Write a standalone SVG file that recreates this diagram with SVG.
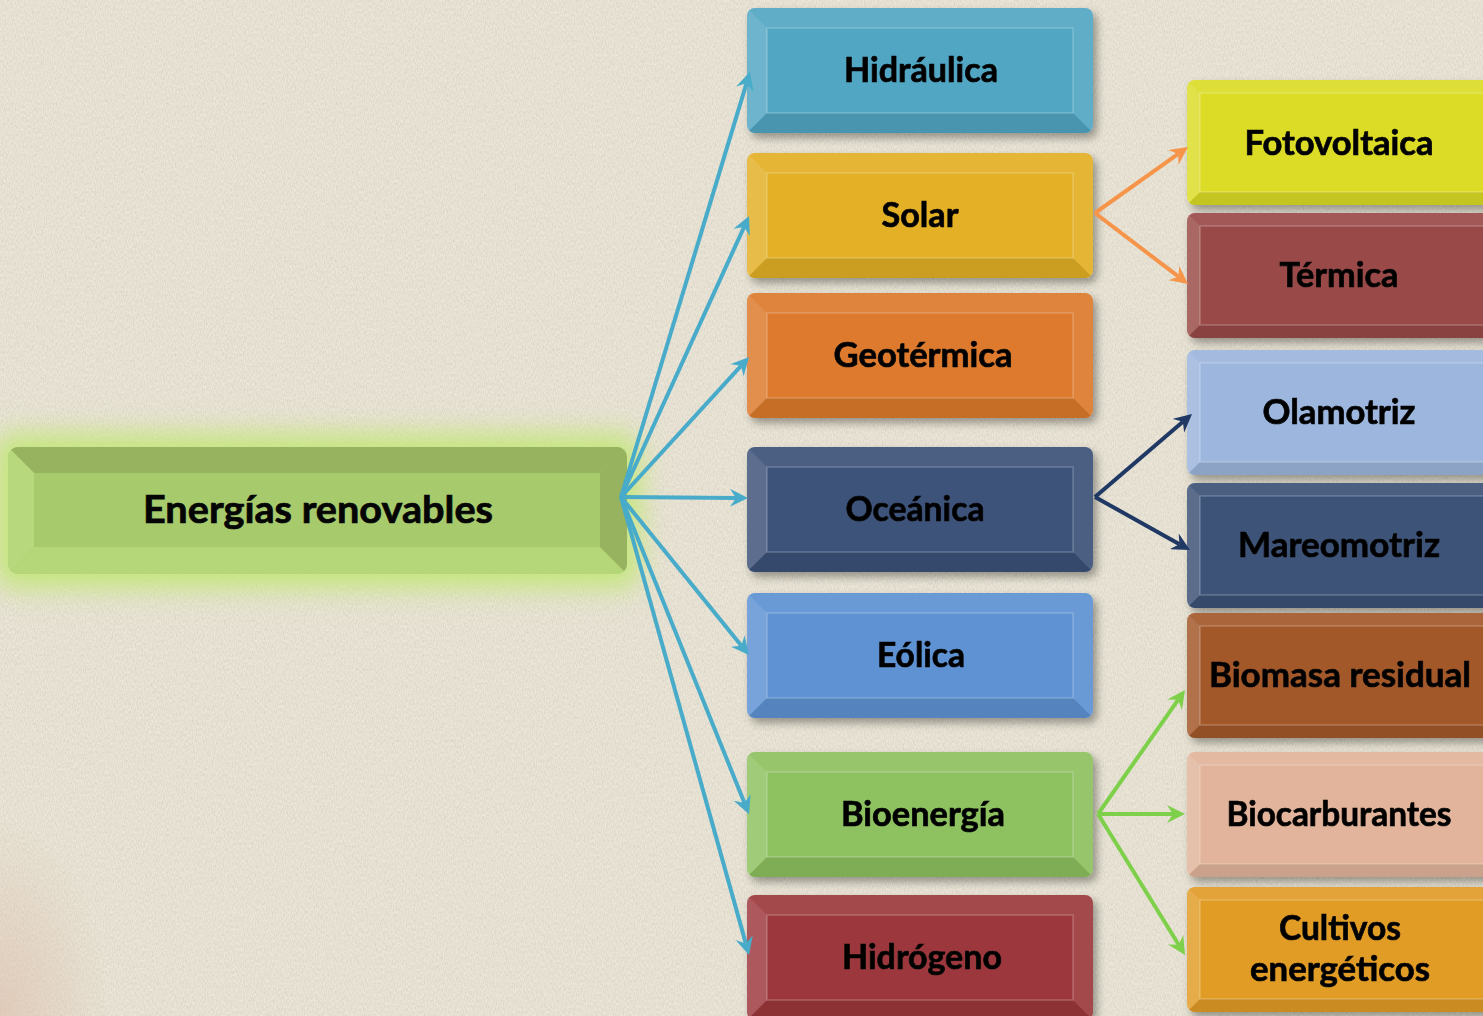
<svg xmlns="http://www.w3.org/2000/svg" xmlns:xlink="http://www.w3.org/1999/xlink" width="1483" height="1016" viewBox="0 0 1483 1016">
<defs>
  <style>
    text { font-family: Lato, "Open Sans", "Liberation Sans", sans-serif; font-weight: bold; fill: #050505; stroke: #050505; stroke-width: 0.7px; text-anchor: middle; font-size: 34px; }
    .main text { font-size: 38px; }
    .conn line { stroke-width: 4; fill: none; }
    .blue line { stroke: #47abc9; }
    .orange line { stroke: #f6944a; }
    .navy line { stroke: #1f3864; }
    .green line { stroke: #7ed04b; }
  </style>
  <filter id="paper" x="0" y="0" width="1" height="1">
    <feTurbulence type="fractalNoise" baseFrequency="0.9 0.35" numOctaves="2" seed="7" result="n"/>
    <feColorMatrix in="n" type="matrix" values="0 0 0 0 0.55  0 0 0 0 0.52  0 0 0 0 0.44  1.4 0 0 0 -0.45"/>
  </filter>
  <filter id="shadow" x="-10%" y="-20%" width="125%" height="150%">
    <feDropShadow dx="4" dy="5" stdDeviation="4" flood-color="#000" flood-opacity="0.35"/>
  </filter>
  <filter id="glow" x="-20%" y="-80%" width="140%" height="260%">
    <feGaussianBlur stdDeviation="14"/>
  </filter>
  <radialGradient id="stain" cx="0" cy="1" r="1">
    <stop offset="0" stop-color="#dcbcaa" stop-opacity="0.6"/>
    <stop offset="1" stop-color="#dcbcaa" stop-opacity="0"/>
  </radialGradient>
  <marker id="mBlue" viewBox="0 0 12 12" refX="4" refY="6" markerWidth="18" markerHeight="18" markerUnits="userSpaceOnUse" orient="auto"><path d="M0,0 L12,6 L0,12 L4,6 z" fill="#47abc9"/></marker>
  <marker id="mOrange" viewBox="0 0 12 12" refX="4" refY="6" markerWidth="18" markerHeight="18" markerUnits="userSpaceOnUse" orient="auto"><path d="M0,0 L12,6 L0,12 L4,6 z" fill="#f6944a"/></marker>
  <marker id="mNavy" viewBox="0 0 12 12" refX="4" refY="6" markerWidth="18" markerHeight="18" markerUnits="userSpaceOnUse" orient="auto"><path d="M0,0 L12,6 L0,12 L4,6 z" fill="#1f3864"/></marker>
  <marker id="mGreen" viewBox="0 0 12 12" refX="4" refY="6" markerWidth="18" markerHeight="18" markerUnits="userSpaceOnUse" orient="auto"><path d="M0,0 L12,6 L0,12 L4,6 z" fill="#7ed04b"/></marker>
  <clipPath id="clipM"><rect x="0" y="0" width="346" height="125" rx="8"/></clipPath>
  <clipPath id="clipR"><rect x="0" y="0" width="310" height="125" rx="8"/></clipPath>
  <clipPath id="clipMain"><rect x="8" y="447" width="619" height="127" rx="10"/></clipPath>
  <symbol id="bevelM" overflow="visible">
    <g clip-path="url(#clipM)">
      <polygon points="0,0 346,0 326,20 20,20" fill="#fff" fill-opacity="0.08"/>
      <polygon points="0,0 20,20 20,105 0,125" fill="#fff" fill-opacity="0.16"/>
      <polygon points="0,125 20,105 326,105 346,125" fill="#000" fill-opacity="0.10"/>
      <polygon points="346,0 326,20 326,105 346,125" fill="#fff" fill-opacity="0.08"/>
      <rect x="20" y="20" width="306" height="85" fill="none" stroke="#fff" stroke-opacity="0.22" stroke-width="1.5"/>
    </g>
  </symbol>
  <symbol id="bevelR" overflow="visible">
    <g clip-path="url(#clipR)">
      <polygon points="0,0 310,0 297,13 13,13" fill="#fff" fill-opacity="0.08"/>
      <polygon points="0,0 13,13 13,112 0,125" fill="#fff" fill-opacity="0.16"/>
      <polygon points="0,125 13,112 297,112 310,125" fill="#000" fill-opacity="0.10"/>
      <rect x="13" y="13" width="300" height="99" fill="none" stroke="#fff" stroke-opacity="0.22" stroke-width="1.5"/>
    </g>
  </symbol>
</defs>

<!-- background -->
<rect x="0" y="0" width="1483" height="1016" fill="#ebe6d7"/>
<rect x="0" y="0" width="1483" height="1016" filter="url(#paper)" opacity="0.6"/>
<rect x="0" y="820" width="110" height="196" fill="url(#stain)"/>

<!-- main node -->
<g id="energias-renovables" class="main">
  <rect x="-6" y="434" width="646" height="154" rx="18" fill="#c4e67a" filter="url(#glow)"/>
  <g clip-path="url(#clipMain)">
    <rect x="8" y="447" width="619" height="127" fill="#a7cb6c"/>
    <polygon points="8,447 627,447 600,473 34,473" fill="#97b35f"/>
    <polygon points="8,447 34,473 34,547 8,574" fill="#b7d87c"/>
    <polygon points="8,574 34,547 600,547 627,574" fill="#b5d679"/>
    <polygon points="627,447 600,473 600,547 627,574" fill="#97b360"/>
  </g>
  <text x="318" y="523" textLength="350" lengthAdjust="spacingAndGlyphs">Energías renovables</text>
</g>

<!-- middle nodes -->
<g id="hidraulica" transform="translate(747,8)" filter="url(#shadow)">
  <rect width="346" height="125" rx="8" fill="#51a6c3"/><use xlink:href="#bevelM"/>
  <text x="174" y="74" textLength="154" lengthAdjust="spacingAndGlyphs">Hidráulica</text>
</g>
<g id="solar" transform="translate(747,153)" filter="url(#shadow)">
  <rect width="346" height="125" rx="8" fill="#e3b025"/><use xlink:href="#bevelM"/>
  <text x="173" y="74" textLength="77" lengthAdjust="spacingAndGlyphs">Solar</text>
</g>
<g id="geotermica" transform="translate(747,293)" filter="url(#shadow)">
  <rect width="346" height="125" rx="8" fill="#dd7a2d"/><use xlink:href="#bevelM"/>
  <text x="176" y="74" textLength="179" lengthAdjust="spacingAndGlyphs">Geotérmica</text>
</g>
<g id="oceanica" transform="translate(747,447)" filter="url(#shadow)">
  <rect width="346" height="125" rx="8" fill="#3c5279"/><use xlink:href="#bevelM"/>
  <text x="168" y="74" textLength="139" lengthAdjust="spacingAndGlyphs">Oceánica</text>
</g>
<g id="eolica" transform="translate(747,593)" filter="url(#shadow)">
  <rect width="346" height="125" rx="8" fill="#5e92d3"/><use xlink:href="#bevelM"/>
  <text x="174" y="74" textLength="88" lengthAdjust="spacingAndGlyphs">Eólica</text>
</g>
<g id="bioenergia" transform="translate(747,752)" filter="url(#shadow)">
  <rect width="346" height="125" rx="8" fill="#8ec160"/><use xlink:href="#bevelM"/>
  <text x="176" y="74" textLength="164" lengthAdjust="spacingAndGlyphs">Bioenergía</text>
</g>
<g id="hidrogeno" transform="translate(747,895)" filter="url(#shadow)">
  <rect width="346" height="125" rx="8" fill="#9c393c"/><use xlink:href="#bevelM"/>
  <text x="175" y="74" textLength="160" lengthAdjust="spacingAndGlyphs">Hidrógeno</text>
</g>

<!-- right nodes -->
<g id="fotovoltaica" transform="translate(1187,80)" filter="url(#shadow)">
  <rect width="310" height="125" rx="8" fill="#dcdc27"/><use xlink:href="#bevelR"/>
  <text x="152" y="75" textLength="189" lengthAdjust="spacingAndGlyphs">Fotovoltaica</text>
</g>
<g id="termica" transform="translate(1187,213)" filter="url(#shadow)">
  <rect width="310" height="125" rx="8" fill="#9a4a48"/><use xlink:href="#bevelR"/>
  <text x="152" y="74" textLength="119" lengthAdjust="spacingAndGlyphs">Térmica</text>
</g>
<g id="olamotriz" transform="translate(1187,350)" filter="url(#shadow)">
  <rect width="310" height="125" rx="8" fill="#9db6dd"/><use xlink:href="#bevelR"/>
  <text x="152" y="74" textLength="153" lengthAdjust="spacingAndGlyphs">Olamotriz</text>
</g>
<g id="mareomotriz" transform="translate(1187,483)" filter="url(#shadow)">
  <rect width="310" height="125" rx="8" fill="#3c5277"/><use xlink:href="#bevelR"/>
  <text x="152" y="74" textLength="202" lengthAdjust="spacingAndGlyphs">Mareomotriz</text>
</g>
<g id="biomasa-residual" transform="translate(1187,613)" filter="url(#shadow)">
  <rect width="310" height="125" rx="8" fill="#a3582a"/><use xlink:href="#bevelR"/>
  <text x="153" y="74" textLength="262" lengthAdjust="spacingAndGlyphs">Biomasa residual</text>
</g>
<g id="biocarburantes" transform="translate(1187,752)" filter="url(#shadow)">
  <rect width="310" height="125" rx="8" fill="#e1b49b"/><use xlink:href="#bevelR"/>
  <text x="152" y="74" textLength="225" lengthAdjust="spacingAndGlyphs">Biocarburantes</text>
</g>
<g id="cultivos-energeticos" transform="translate(1187,887)" filter="url(#shadow)">
  <rect width="310" height="125" rx="8" fill="#e19c26"/><use xlink:href="#bevelR"/>
  <text x="153" y="53" textLength="122" lengthAdjust="spacingAndGlyphs">Cultivos</text>
  <text x="153" y="94" textLength="180" lengthAdjust="spacingAndGlyphs">energéticos</text>
</g>

<!-- connectors -->
<g id="connectors" class="conn">
  <g class="blue">
    <line x1="621" y1="497" x2="746.5" y2="83.3" marker-end="url(#mBlue)"/>
    <line x1="621" y1="497" x2="744.1" y2="226.9" marker-end="url(#mBlue)"/>
    <line x1="621" y1="497" x2="741" y2="365.8" marker-end="url(#mBlue)"/>
    <line x1="621" y1="497" x2="736" y2="497.9" marker-end="url(#mBlue)"/>
    <line x1="621" y1="497" x2="741.4" y2="645.7" marker-end="url(#mBlue)"/>
    <line x1="621" y1="497" x2="744.5" y2="803" marker-end="url(#mBlue)"/>
    <line x1="621" y1="497" x2="745.8" y2="943.4" marker-end="url(#mBlue)"/>
  </g>
  <g class="orange">
    <line x1="1095" y1="213" x2="1178.2" y2="153.9" marker-end="url(#mOrange)"/>
    <line x1="1095" y1="213" x2="1178.5" y2="276.7" marker-end="url(#mOrange)"/>
  </g>
  <g class="navy">
    <line x1="1095" y1="497" x2="1182.9" y2="421.8" marker-end="url(#mNavy)"/>
    <line x1="1095" y1="497" x2="1179.5" y2="544.2" marker-end="url(#mNavy)"/>
  </g>
  <g class="green">
    <line x1="1098" y1="814" x2="1178.1" y2="699.8" marker-end="url(#mGreen)"/>
    <line x1="1098" y1="814" x2="1173" y2="814" marker-end="url(#mGreen)"/>
    <line x1="1098" y1="814" x2="1178.7" y2="944.8" marker-end="url(#mGreen)"/>
  </g>
</g>
</svg>
